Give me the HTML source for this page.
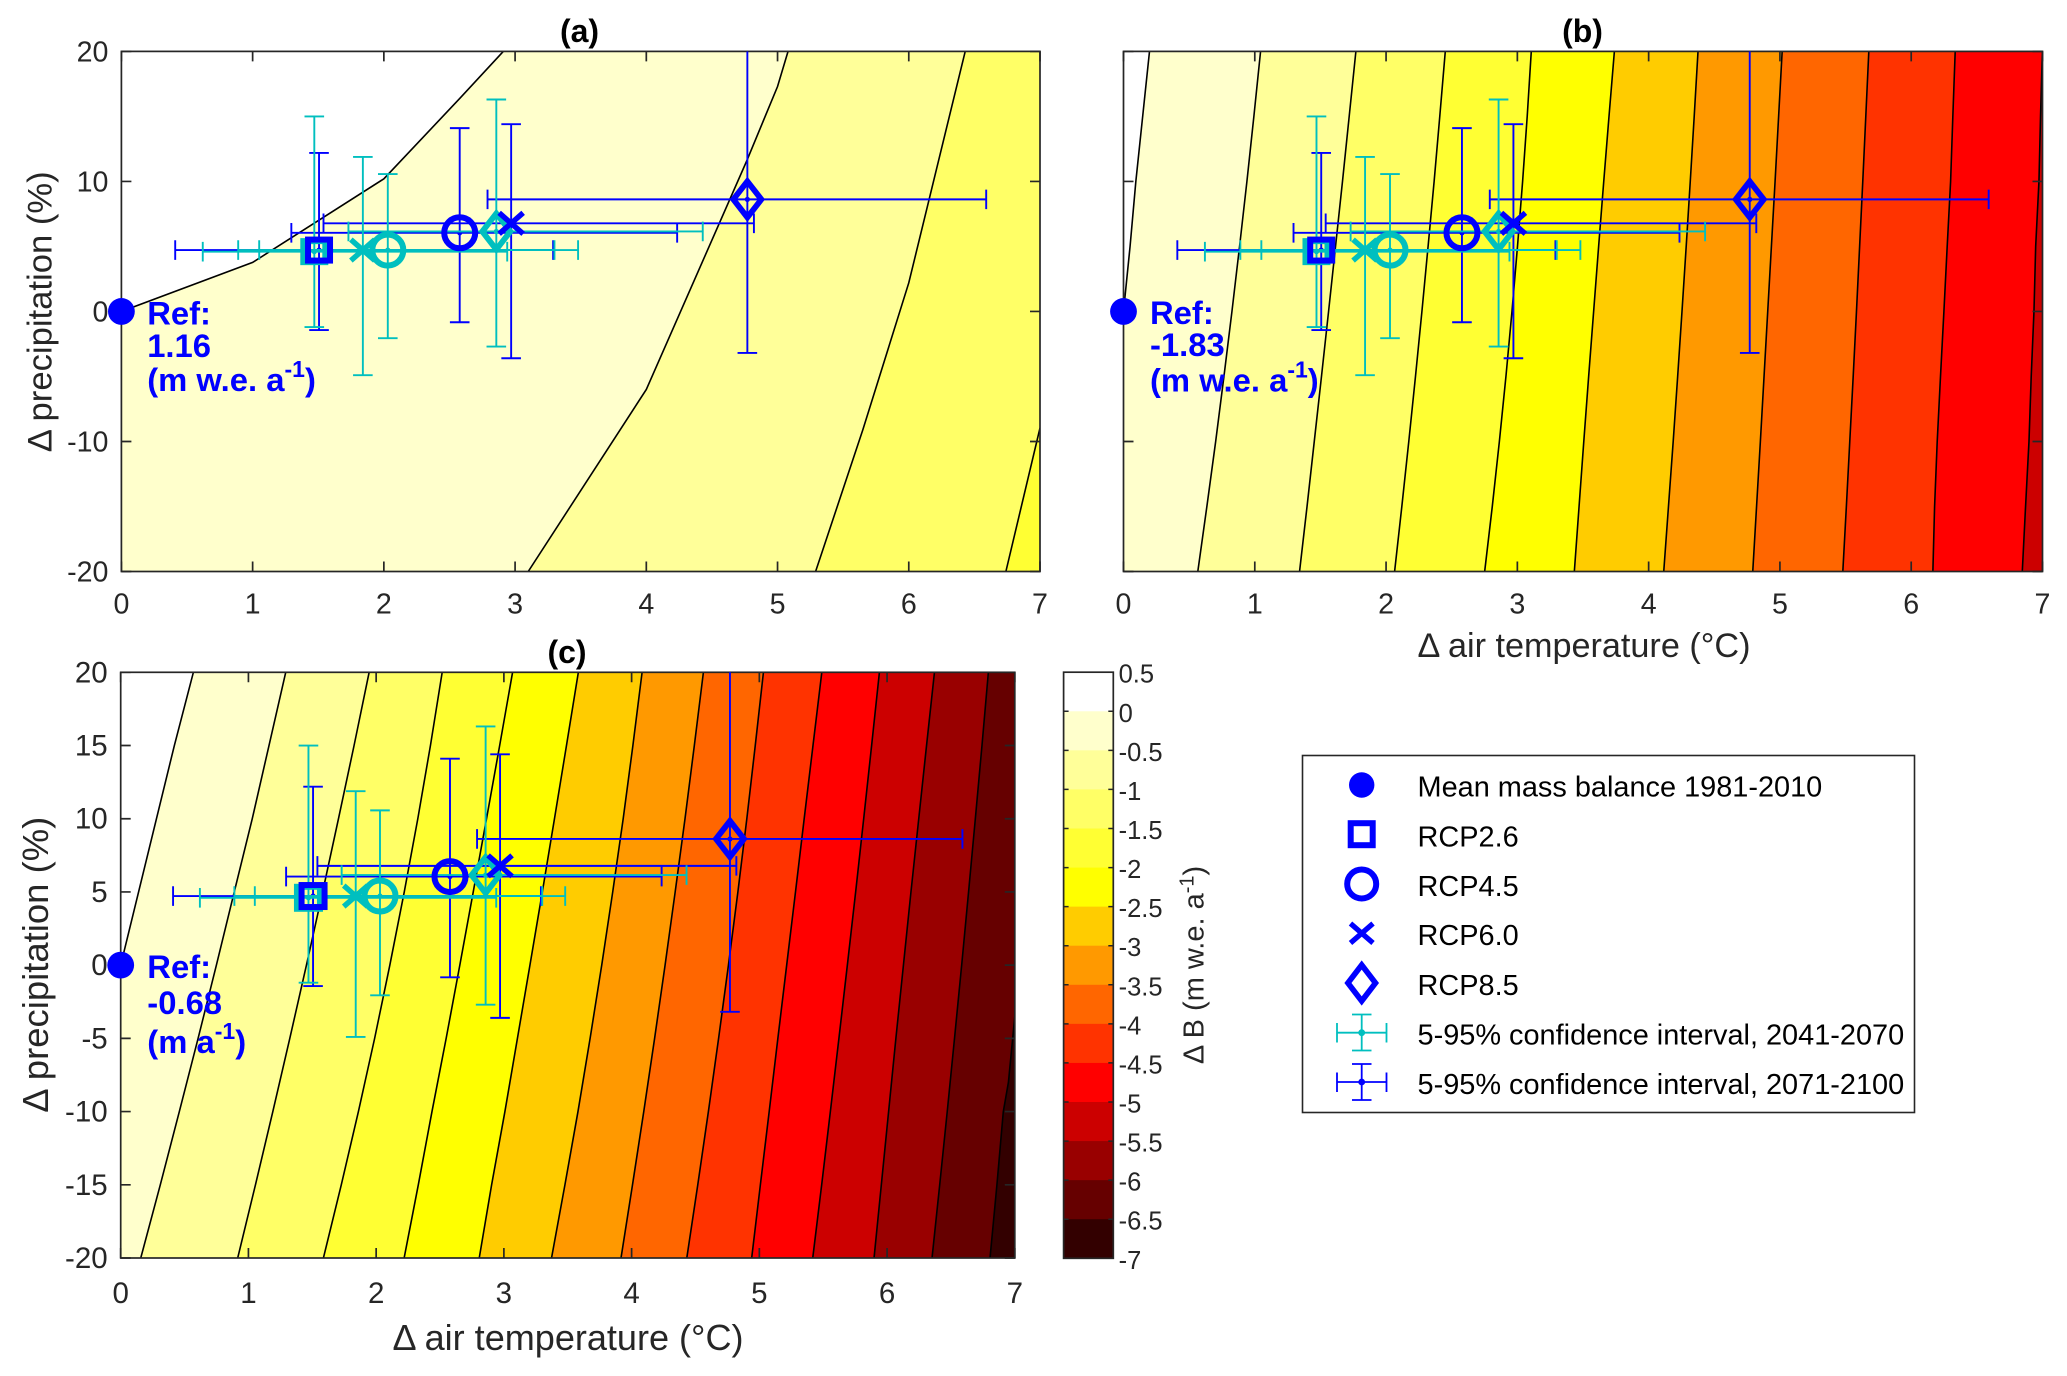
<!DOCTYPE html>
<html lang="en">
<head>
<meta charset="utf-8">
<title>Mass balance sensitivity contour panels</title>
<style>
html,body{margin:0;padding:0;background:#fff;}
svg{display:block;font-family:"Liberation Sans",Arial,sans-serif;}
</style>
</head>
<body>
<svg id="figure" xmlns="http://www.w3.org/2000/svg" width="2067" height="1376" viewBox="0 0 2067 1376">
  <defs id="clips"></defs>
  <rect x="0" y="0" width="2067" height="1376" fill="#ffffff"/>
  <g id="panels"></g>
  <g id="colorbar"></g>
  <text transform="translate(1203.5 965) rotate(-90)" text-anchor="middle" font-size="29" fill="#262626">Δ B (m w.e. a<tspan dy="-10" font-size="20">-1</tspan><tspan dy="10">)</tspan></text>

  <g>
    <rect x="1302.5" y="755.5" width="612" height="357" fill="#ffffff" stroke="#262626" stroke-width="1.6"/>
    <g font-size="28.9" fill="#000000">
      <text x="1417.5" y="796.5">Mean mass balance 1981-2010</text>
      <text x="1417.5" y="846.5">RCP2.6</text>
      <text x="1417.5" y="896">RCP4.5</text>
      <text x="1417.5" y="945">RCP6.0</text>
      <text x="1417.5" y="995">RCP8.5</text>
      <text x="1417.5" y="1044.3">5-95% confidence interval, 2041-2070</text>
      <text x="1417.5" y="1094">5-95% confidence interval, 2071-2100</text>
    </g>
    <circle cx="1361.7" cy="785" r="12.7" fill="#0000ff"/>
    <rect x="1350.7" y="823.2" width="22" height="22" fill="none" stroke="#0000ff" stroke-width="6"/>
    <circle cx="1361.7" cy="884" r="14.5" fill="none" stroke="#0000ff" stroke-width="6"/>
    <path d="M1350.5 923.5 L1373 943 M1373 923.5 L1350.5 943" fill="none" stroke="#0000ff" stroke-width="5.2"/>
    <path d="M1361.7 965 L1375.5 983 L1361.7 1001 L1347.9 983 Z" fill="none" stroke="#0000ff" stroke-width="5.6"/>
    <g stroke="#00bfbf" stroke-width="1.8" fill="none">
      <path d="M1337 1032.7 H1386.5 M1337 1023 V1042.5 M1386.5 1023 V1042.5 M1361.7 1014.5 V1050.5 M1352 1014.5 H1371.5 M1352 1050.5 H1371.5"/>
      <circle cx="1361.7" cy="1032.7" r="2.5" fill="#00bfbf"/>
    </g>
    <g stroke="#0000ff" stroke-width="1.8" fill="none">
      <path d="M1337 1082 H1386.5 M1337 1072.5 V1092 M1386.5 1072.5 V1092 M1361.7 1064 V1100 M1352 1064 H1371.5 M1352 1100 H1371.5"/>
      <circle cx="1361.7" cy="1082" r="2.5" fill="#0000ff"/>
    </g>
  </g>

<script>
// ---- data ----
const bandColors = ['#ffffff','#ffffcc','#ffff99','#ffff66','#ffff33','#ffff00','#ffcc00','#ff9900','#ff6600','#ff3300','#ff0000','#cc0000','#990000','#660000','#330000'];
const colorbarTickLabels = ['0.5','0','-0.5','-1','-1.5','-2','-2.5','-3','-3.5','-4','-4.5','-5','-5.5','-6','-6.5','-7'];
const colorbarTickValues = [0.5,0,-0.5,-1,-1.5,-2,-2.5,-3,-3.5,-4,-4.5,-5,-5.5,-6,-6.5,-7];

const xTickValues = [0,1,2,3,4,5,6,7];
const yTickValuesCoarse = [-20,-10,0,10,20];
const yTickValuesFine = [-20,-15,-10,-5,0,5,10,15,20];
const yGrid = [-20,-15,-10,-5,0,5,10,15,20];

// Contours, panel (a)
const contourXA = [
  [0,1,2,2.58,2.91],
  [3.1,4,4.766,5,5.08],
  [5.29,5.65,6,6.43],
  [6.74,7]
];
const contourYA = [
  [0,3.77,10.2,16.4,20],
  [-20,-6,11.6,17.3,20],
  [-20,-9.1,2.2,20],
  [-20,-8.96]
];

// Contours, panel (b)
const contourXB = [
  [0,0.05,0.094,0.146,0.198],
  [0.566,0.635,0.702,0.765,0.826,0.884,0.94,0.993,1.044],
  [1.341,1.398,1.453,1.508,1.562,1.615,1.668,1.719,1.77],
  [2.065,2.12,2.173,2.224,2.273,2.32,2.366,2.409,2.451],
  [2.751,2.809,2.863,2.913,2.959,3.001,3.04,3.075,3.106],
  [3.434,3.47,3.506,3.543,3.581,3.619,3.658,3.698,3.739],
  [4.115,4.151,4.187,4.221,4.254,4.286,4.317,4.347,4.376],
  [4.793,4.822,4.851,4.879,4.907,4.935,4.963,4.99,5.017],
  [5.479,5.506,5.532,5.558,5.583,5.607,5.631,5.654,5.677],
  [6.165,6.178,6.198,6.223,6.249,6.274,6.3,6.317,6.335],
  [6.846,6.871,6.897,6.914,6.935,6.948,6.973,6.985,6.999]
];
const contourYB = [[0,5,10,15,20],yGrid,yGrid,yGrid,yGrid,yGrid,yGrid,yGrid,yGrid,yGrid,yGrid];

// Contours, panel (c)
const contourXC = [
  [0,0.14,0.28,0.42,0.569],
  [0.157,0.31,0.459,0.606,0.749,0.889,1.03,1.161,1.292],
  [0.916,1.055,1.191,1.324,1.454,1.581,1.705,1.827,1.945],
  [1.587,1.727,1.861,1.988,2.107,2.22,2.326,2.425,2.517],
  [2.219,2.33,2.437,2.548,2.655,2.76,2.864,2.967,3.068],
  [2.807,2.904,3.008,3.106,3.204,3.301,3.396,3.49,3.583],
  [3.373,3.478,3.58,3.675,3.766,3.852,3.934,4.01,4.082],
  [3.917,4.007,4.095,4.18,4.262,4.341,4.418,4.491,4.562],
  [4.432,4.518,4.601,4.681,4.758,4.832,4.902,4.968,5.032],
  [4.94,5.008,5.077,5.145,5.214,5.283,5.351,5.42,5.489],
  [5.418,5.488,5.556,5.623,5.689,5.754,5.817,5.879,5.94],
  [5.898,5.955,6.012,6.069,6.128,6.187,6.248,6.309,6.371],
  [6.352,6.412,6.471,6.528,6.584,6.638,6.691,6.743,6.793],
  [6.806,6.86,6.91,6.95,7]
];
const contourYC = [[0,5,10,15,20],yGrid,yGrid,yGrid,yGrid,yGrid,yGrid,yGrid,yGrid,yGrid,yGrid,yGrid,yGrid,[-20,-15,-10,-8,-3.5]];

// Scenario order: RCP2.6, RCP4.5, RCP6.0, RCP8.5
const scenarios = ['rcp26','rcp45','rcp60','rcp85'];

// 2071-2100 (blue)
const tempLate = [1.506,2.578,2.97,4.77];
const tempLateLow = [0.41,1.295,1.54,2.79];
const tempLateHigh = [3.29,4.235,4.82,6.59];
const precipLate = [4.72,6.05,6.78,8.62];
const precipLateLow = [-1.43,-0.83,-3.6,-3.19];
const precipLateHigh = [12.19,14.1,14.4,22];

// 2041-2070 (teal)
const tempMid = [1.47,2.03,1.84,2.857];
const tempMidLow = [0.62,1.05,0.89,1.73];
const tempMidHigh = [2.94,3.48,3.3,4.43];
const precipMid = [4.6,4.72,4.72,6.15];
const precipMidLow = [-1.2,-2.06,-4.9,-2.7];
const precipMidHigh = [15,10.57,11.88,16.3];

const refValues = ['1.16','-1.83','-0.68'];
const refUnits = ['(m w.e. a','(m w.e. a','(m a'];

// ---- drawing ----
const SVGNS = 'http://www.w3.org/2000/svg';
const BLUE = '#0000ff';
const TEAL = '#00bfbf';
const AXIS = '#262626';

function make(parent, tag, attrs, text) {
  const node = document.createElementNS(SVGNS, tag);
  for (const key in attrs) node.setAttribute(key, attrs[key]);
  if (text !== undefined) node.textContent = text;
  parent.appendChild(node);
  return node;
}

const panelLayouts = [
  {id:'a', left:121.4, right:1040, top:51.4, bottom:571.5, xs:contourXA, ys:contourYA, yTicks:yTickValuesCoarse, yLabels:true,
   tickFont:28.6, titleX:579.5, titleY:42, xTickY:613.5, xTitle:null, yTitle:{x:51.3,y:311.8,len:281,size:34},
   refX:147.2, refY:[324.5,357,391], sq:[22,21], ref:0},
  {id:'b', left:1123.5, right:2042.5, top:51.4, bottom:571.5, xs:contourXB, ys:contourYB, yTicks:yTickValuesCoarse, yLabels:false,
   tickFont:28.6, titleX:1582.5, titleY:42, xTickY:613.5, xTitle:{x:1584,y:657,len:333,size:34}, yTitle:null,
   refX:1150, refY:[324,356,391.4], sq:[22,21], ref:1},
  {id:'c', left:120.7, right:1014.8, top:672.3, bottom:1258, xs:contourXC, ys:contourYC, yTicks:yTickValuesFine, yLabels:true,
   tickFont:29.5, titleX:567, titleY:663, xTickY:1303, xTitle:{x:568,y:1350,len:351,size:36}, yTitle:{x:47.8,y:964.7,len:296,size:36},
   refX:147.3, refY:[978,1014,1053], sq:[23,22], ref:2}
];

const panelsGroup = document.getElementById('panels');
const clips = document.getElementById('clips');

function drawMarker(g, kind, cx, cy, color, p) {
  let m;
  if (kind === 'rcp26') {
    m = make(g,'rect',{x:cx-p.sq[0]/2,y:cy-p.sq[1]/2,width:p.sq[0],height:p.sq[1],fill:'none',stroke:color,'stroke-width':6});
  } else if (kind === 'rcp45') {
    m = make(g,'circle',{cx:cx,cy:cy,r:15.5,fill:'none',stroke:color,'stroke-width':6});
  } else if (kind === 'rcp60') {
    m = make(g,'path',{d:`M${cx-12} ${cy-10.5} L${cx+12} ${cy+10.5} M${cx+12} ${cy-10.5} L${cx-12} ${cy+10.5}`,fill:'none',stroke:color,'stroke-width':5.4});
  } else {
    m = make(g,'path',{d:`M${cx} ${cy-18} L${cx+14} ${cy} L${cx} ${cy+18} L${cx-14} ${cy} Z`,fill:'none',stroke:color,'stroke-width':5.8});
  }
  
  
}

function drawErrorBar(g, sx, sy, x, xl, xh, y, yl, yh, color, name) {
  const capX = 9.8, capY = 9.8;
  const d = `M${sx(xl)} ${sy(y)} H${sx(xh)} M${sx(xl)} ${sy(y)-capY} V${sy(y)+capY} M${sx(xh)} ${sy(y)-capY} V${sy(y)+capY} ` +
            `M${sx(x)} ${sy(yl)} V${sy(yh)} M${sx(x)-capX} ${sy(yl)} H${sx(x)+capX} M${sx(x)-capX} ${sy(yh)} H${sx(x)+capX}`;
  const bar = make(g,'path',{d:d,fill:'none',stroke:color,'stroke-width':1.9});
  
  
  const dot = make(g,'circle',{cx:sx(x),cy:sy(y),r:2.6,fill:color});
  
  
}

panelLayouts.forEach(function (p) {
  const sx = function (v) { return p.left + (v - 0) / 7 * (p.right - p.left); };
  const sy = function (v) { return p.bottom - (v + 20) / 40 * (p.bottom - p.top); };

  const clip = make(clips,'clipPath',{id:'clip-' + p.id});
  make(clip,'rect',{x:p.left,y:p.top,width:p.right-p.left,height:p.bottom-p.top});

  const panel = make(panelsGroup,'g',{});
  
  

  // filled bands
  const bands = make(panel,'g',{'clip-path':'url(#clip-' + p.id + ')'});
  
  
  const base = make(bands,'rect',{x:p.left,y:p.top,width:p.right-p.left,height:p.bottom-p.top,fill:bandColors[0]});
  
  

  p.xs.forEach(function (xArr, i) {
    const yArr = p.ys[i];
    const pts = xArr.map(function (x, k) { return sx(x) + ',' + sy(yArr[k]); });
    pts.push(sx(7) + ',' + sy(20));
    pts.push(sx(7) + ',' + sy(-20));
    pts.push(sx(xArr[0]) + ',' + sy(-20));
    const band = make(bands,'polygon',{points:pts.join(' '),fill:bandColors[i + 1]});
    
    
  });
  p.xs.forEach(function (xArr, i) {
    const yArr = p.ys[i];
    const pts = xArr.map(function (x, k) { return sx(x) + ',' + sy(yArr[k]); });
    const line = make(bands,'polyline',{points:pts.join(' '),fill:'none',stroke:'#000000','stroke-width':1.6});
    
    
  });

  // box + ticks
  const box = make(panel,'rect',{x:p.left,y:p.top,width:p.right-p.left,height:p.bottom-p.top,fill:'none',stroke:AXIS,'stroke-width':1.7});
  
  

  xTickValues.forEach(function (v) {
    const t = make(panel,'path',{d:`M${sx(v)} ${p.bottom} v-10 M${sx(v)} ${p.top} v10`,stroke:AXIS,'stroke-width':1.7,fill:'none'});
    
    
    const lab = make(panel,'text',{x:sx(v),y:p.xTickY,'text-anchor':'middle','font-size':p.tickFont,fill:AXIS},String(v));
    
    
  });
  p.yTicks.forEach(function (v) {
    const t = make(panel,'path',{d:`M${p.left} ${sy(v)} h10 M${p.right} ${sy(v)} h-10`,stroke:AXIS,'stroke-width':1.7,fill:'none'});
    
    
    if (p.yLabels) {
      const lab = make(panel,'text',{x:p.left-13,y:sy(v)+10,'text-anchor':'end','font-size':p.tickFont,fill:AXIS},String(v));
      
      
    }
  });

  // titles
  const title = make(panel,'text',{x:p.titleX,y:p.titleY,'text-anchor':'middle','font-size':32,'font-weight':'bold',fill:'#000000'},'(' + p.id + ')');
  
  
  if (p.xTitle) {
    const xt = make(panel,'text',{x:p.xTitle.x,y:p.xTitle.y,'text-anchor':'middle','font-size':p.xTitle.size,fill:AXIS,textLength:p.xTitle.len,lengthAdjust:'spacingAndGlyphs'},'Δ air temperature (°C)');
    
    
  }
  if (p.yTitle) {
    const yt = make(panel,'text',{transform:`translate(${p.yTitle.x} ${p.yTitle.y}) rotate(-90)`,'text-anchor':'middle','font-size':p.yTitle.size,fill:AXIS,textLength:p.yTitle.len,lengthAdjust:'spacingAndGlyphs'},'Δ precipitation (%)');
    
    
  }

  // error bars: blue beneath teal
  const bars = make(panel,'g',{'clip-path':'url(#clip-' + p.id + ')'});
  
  
  scenarios.forEach(function (s, i) {
    drawErrorBar(bars, sx, sy, tempLate[i], tempLateLow[i], tempLateHigh[i], precipLate[i], precipLateLow[i], precipLateHigh[i], BLUE, 'error-bar-2071-' + s);
  });
  scenarios.forEach(function (s, i) {
    drawErrorBar(bars, sx, sy, tempMid[i], tempMidLow[i], tempMidHigh[i], precipMid[i], precipMidLow[i], precipMidHigh[i], TEAL, 'error-bar-2041-' + s);
  });

  // markers: teal beneath blue
  const markers = make(panel,'g',{});
  
  
  scenarios.forEach(function (s, i) {
    drawMarker(markers, s, sx(tempMid[i]), sy(precipMid[i]), TEAL, p);
  });
  scenarios.forEach(function (s, i) {
    drawMarker(markers, s, sx(tempLate[i]), sy(precipLate[i]), BLUE, p);
  });

  // reference point
  const ref = make(panel,'circle',{cx:sx(0),cy:sy(0),r:13.4,fill:BLUE});
  
  

  const refGroup = make(panel,'g',{'font-size':32.8,'font-weight':'bold',fill:BLUE});
  
  
  make(refGroup,'text',{x:p.refX,y:p.refY[0]},'Ref:');
  make(refGroup,'text',{x:p.refX,y:p.refY[1]},refValues[p.ref]);
  const unit = make(refGroup,'text',{x:p.refX,y:p.refY[2]},refUnits[p.ref]);
  make(unit,'tspan',{dy:-14,'font-size':23},'-1');
  make(unit,'tspan',{dy:14},')');
});

// colorbar
(function () {
  const g = document.getElementById('colorbar');
  const left = 1063.6, right = 1113.3, top = 672.2, bottom = 1258.3;
  const sy = function (v) { return top + (0.5 - v) / 7.5 * (bottom - top); };
  bandColors.forEach(function (c, i) {
    const hi = colorbarTickValues[i], lo = colorbarTickValues[i + 1];
    const seg = make(g,'rect',{x:left,y:sy(hi),width:right-left,height:sy(lo)-sy(hi)+0.4,fill:c});
    
    
  });
  const frame = make(g,'rect',{x:left,y:top,width:right-left,height:bottom-top,fill:'none',stroke:AXIS,'stroke-width':1.7});
  
  
  colorbarTickValues.forEach(function (v, i) {
    const t = make(g,'path',{d:`M${left} ${sy(v)} h5 M${right} ${sy(v)} h-5`,stroke:AXIS,'stroke-width':1.5,fill:'none'});
    
    
    const lab = make(g,'text',{x:1118.6,y:sy(v)+10.5,'font-size':25.5,fill:AXIS},colorbarTickLabels[i]);
    
    
  });
})();
</script>
</svg>
</body>
</html>
